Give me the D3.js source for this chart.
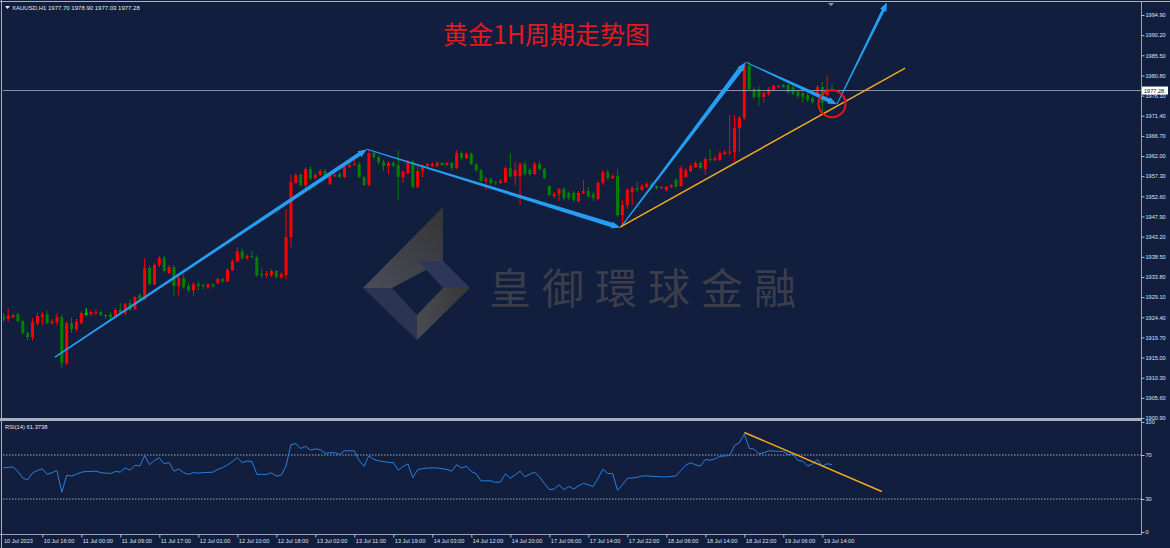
<!DOCTYPE html>
<html>
<head>
<meta charset="utf-8">
<script src="https://cdn.jsdelivr.net/npm/d3@7"></script>
<style>
  html, body { margin: 0; padding: 0; background: #111e3d; overflow: hidden; }
  svg { display: block; }
  text { font-family: "Liberation Sans", Arial, sans-serif; }
</style>
</head>
<body>
<svg id="chart"></svg>
<script>
// ---- data ----
const symbolTitle = "XAUUSD,H1  1977.70 1978.90 1977.03 1977.28";
const chartTitle = "黄金1H周期走势图";
const watermarkText = "皇御環球金融";
const rsiTitle = "RSI(14) 61.3738";

// hourly candles [open, high, low, close]
const candles = [
  [1924.9,1925.4,1923.3,1923.7],[1924.0,1926.5,1923.3,1924.7],[1924.4,1925.3,1924.2,1924.9],[1925.1,1925.5,1923.2,1923.5],
  [1923.5,1923.7,1920.3,1920.7],[1920.7,1921.0,1919.0,1919.8],[1919.8,1924.2,1919.0,1923.3],[1923.0,1925.4,1922.4,1924.7],
  [1924.4,1925.6,1922.5,1925.1],[1925.1,1926.0,1922.8,1923.0],[1923.0,1924.0,1922.7,1923.5],[1923.3,1925.4,1922.5,1924.4],
  [1924.4,1925.0,1912.5,1913.7],[1913.7,1923.5,1913.2,1923.0],[1923.0,1924.4,1920.7,1921.6],[1921.6,1924.0,1921.0,1923.3],
  [1923.0,1925.8,1922.8,1925.4],[1925.3,1926.5,1924.7,1925.3],[1925.1,1926.0,1924.7,1925.6],[1925.4,1926.3,1924.9,1925.6],
  [1925.6,1925.8,1924.7,1924.9],[1924.9,1925.1,1924.0,1924.7],[1925.1,1925.6,1923.9,1924.4],[1924.7,1926.5,1924.4,1926.1],
  [1926.1,1927.6,1925.1,1925.4],[1925.4,1927.9,1924.9,1927.5],[1927.7,1928.6,1925.8,1926.1],[1926.3,1929.4,1926.0,1929.1],
  [1929.6,1930.0,1928.2,1928.6],[1928.6,1938.2,1928.4,1935.9],[1935.9,1936.4,1931.9,1932.1],[1932.1,1937.0,1931.9,1936.6],
  [1936.6,1938.7,1936.1,1938.2],[1938.2,1938.7,1934.9,1935.2],[1934.7,1936.6,1934.5,1936.1],[1936.1,1936.6,1929.4,1931.7],
  [1931.7,1934.0,1929.4,1933.5],[1933.5,1934.5,1931.0,1931.4],[1931.7,1932.4,1930.2,1930.7],[1930.7,1932.6,1929.4,1932.1],
  [1932.1,1932.6,1930.7,1931.7],[1931.9,1932.2,1931.0,1931.7],[1931.4,1932.4,1931.0,1932.1],[1932.1,1932.4,1931.2,1931.7],
  [1932.4,1933.7,1932.1,1933.3],[1933.3,1933.5,1932.4,1932.8],[1932.8,1935.8,1932.6,1935.4],[1935.4,1937.9,1935.2,1937.5],
  [1937.5,1940.7,1937.2,1939.8],[1939.8,1940.4,1937.9,1938.2],[1938.2,1939.1,1937.7,1938.7],[1938.7,1940.0,1938.2,1938.4],
  [1938.4,1938.9,1933.8,1934.2],[1934.5,1935.9,1933.5,1934.2],[1934.2,1935.2,1933.5,1934.5],[1934.2,1935.6,1933.8,1935.2],
  [1935.2,1935.4,1933.5,1933.8],[1933.8,1934.9,1933.3,1934.5],[1934.2,1949.6,1933.3,1943.1],[1943.1,1957.6,1940.7,1955.9],
  [1955.7,1958.0,1955.5,1957.6],[1957.6,1958.0,1954.8,1955.2],[1955.2,1959.4,1954.5,1959.0],[1959.0,1959.7,1956.4,1956.9],
  [1956.9,1958.0,1956.6,1957.6],[1957.6,1959.0,1957.3,1958.5],[1958.5,1959.0,1956.9,1957.1],[1955.5,1957.6,1955.2,1957.3],
  [1957.3,1958.0,1957.1,1957.6],[1957.8,1958.3,1956.9,1957.1],[1957.1,1959.9,1956.9,1959.4],[1959.4,1960.4,1959.2,1959.9],
  [1959.9,1961.3,1959.7,1960.1],[1960.1,1960.6,1956.9,1957.1],[1957.1,1957.3,1955.0,1955.2],[1955.2,1963.6,1955.0,1962.7],
  [1962.7,1963.1,1961.3,1961.8],[1961.8,1962.2,1960.1,1960.6],[1960.6,1961.1,1958.5,1959.7],[1959.7,1960.8,1957.8,1960.4],
  [1960.4,1960.8,1959.4,1959.7],[1959.9,1963.4,1951.8,1957.1],[1957.1,1958.7,1955.7,1958.3],[1958.0,1961.1,1957.8,1960.6],
  [1960.6,1961.1,1954.5,1954.8],[1954.8,1960.1,1954.5,1958.5],[1958.7,1960.1,1957.1,1959.7],[1959.7,1960.4,1959.4,1960.1],
  [1959.7,1960.6,1959.4,1960.1],[1959.7,1960.8,1959.4,1960.4],[1960.4,1960.6,1959.7,1959.9],[1959.9,1960.6,1959.7,1960.4],
  [1960.4,1960.6,1958.7,1959.2],[1959.2,1963.4,1958.9,1962.7],[1962.7,1963.1,1961.1,1961.5],[1961.5,1962.9,1961.3,1962.5],
  [1962.5,1962.9,1959.9,1960.1],[1960.1,1960.4,1958.3,1958.7],[1958.7,1959.0,1955.9,1956.2],[1956.2,1957.1,1954.1,1956.6],
  [1956.6,1957.1,1955.2,1955.7],[1955.9,1956.2,1955.2,1955.7],[1955.7,1956.6,1955.5,1956.2],[1955.9,1959.7,1955.7,1959.2],
  [1959.2,1962.7,1957.1,1957.3],[1957.3,1960.6,1955.2,1958.7],[1957.3,1960.6,1950.6,1960.1],[1960.1,1960.8,1957.3,1957.8],
  [1958.7,1959.2,1957.3,1957.8],[1957.8,1960.6,1957.6,1960.1],[1960.1,1960.8,1958.7,1959.0],[1959.0,1959.2,1956.6,1956.9],
  [1955.0,1955.2,1952.7,1952.9],[1952.7,1953.6,1952.2,1953.1],[1953.1,1954.5,1951.5,1954.3],[1954.3,1954.8,1951.7,1952.2],
  [1953.4,1953.8,1951.7,1952.2],[1953.4,1953.8,1951.2,1951.7],[1951.5,1953.8,1951.2,1953.4],[1953.4,1956.4,1953.1,1953.8],
  [1953.8,1954.8,1952.2,1952.7],[1953.1,1953.6,1951.5,1952.2],[1952.0,1956.2,1951.7,1955.7],[1955.7,1958.7,1955.2,1958.3],
  [1958.3,1958.9,1956.4,1956.9],[1956.9,1957.8,1956.6,1957.3],[1957.3,1959.0,1947.8,1948.2],[1948.2,1951.7,1945.4,1950.6],
  [1950.6,1954.5,1949.6,1954.1],[1953.6,1955.0,1950.6,1954.5],[1954.5,1956.0,1953.6,1954.1],[1954.1,1955.5,1953.8,1955.0],
  [1954.8,1956.0,1954.5,1955.5],[1955.5,1956.0,1954.3,1954.8],[1955.0,1955.2,1954.1,1954.5],[1954.5,1955.0,1954.3,1954.8],
  [1954.1,1955.0,1953.8,1954.8],[1954.8,1955.5,1954.5,1955.2],[1956.4,1956.9,1954.5,1954.8],[1955.0,1959.7,1954.8,1959.2],
  [1957.1,1959.2,1956.9,1958.7],[1958.5,1960.1,1958.3,1959.7],[1959.4,1960.8,1959.2,1960.4],[1960.4,1960.8,1958.9,1959.2],
  [1959.0,1961.8,1957.6,1961.3],[1961.3,1963.6,1960.6,1961.1],[1961.1,1962.0,1960.8,1961.5],[1961.1,1963.1,1960.8,1962.7],
  [1962.5,1963.4,1962.2,1962.9],[1962.8,1971.6,1962.2,1963.0],[1962.9,1971.6,1960.6,1968.5],[1968.5,1971.4,1962.9,1970.9],
  [1970.9,1983.9,1970.4,1983.2],[1983.2,1984.0,1977.1,1977.6],[1977.6,1978.1,1975.3,1975.8],[1977.6,1978.3,1973.8,1975.8],
  [1975.8,1977.1,1974.5,1976.7],[1976.5,1978.1,1976.0,1977.6],[1977.4,1978.6,1977.1,1978.3],[1978.1,1978.6,1977.9,1978.3],
  [1978.6,1978.8,1977.9,1978.1],[1978.6,1978.8,1976.5,1976.9],[1978.1,1978.6,1976.2,1976.5],[1977.1,1977.4,1975.5,1976.0],
  [1976.7,1977.1,1974.5,1975.8],[1976.2,1976.7,1974.6,1975.1],[1975.5,1975.8,1974.2,1974.6],[1976.2,1978.6,1975.8,1978.1],
  [1978.1,1979.3,1972.3,1974.4],[1976.2,1980.7,1975.8,1977.6],[1977.70,1978.90,1977.03,1977.28]
];

// RSI(14), one value per bar
const rsi = [
  58.2,58.8,59.1,55,49,47.4,53.8,56,57.4,52.4,54,55.9,36.2,51.5,50.9,52.5,54.4,55,55.1,55.3,
  54,53.5,53.2,55,54.5,58.2,56.2,60.6,60,69.4,61.2,65,67.6,61.8,63.2,55.3,57.4,54,52.4,54,
  53.5,54,54.2,54.4,57,58.5,61,64,67.6,63.2,64.5,64.1,52.4,52.4,52.4,53.8,50.9,51.5,60,79.4,
  80.3,75.9,77.9,74.4,75.5,75,71.5,72,72.1,70.6,73.8,73.8,73.8,65,59.7,69.4,66,64.7,64,63.2,
  63.2,56.2,59.7,61.8,49.4,56.8,57.5,58.2,58.2,58.2,57.5,56.8,55.3,61.2,58.2,59.7,55,52.9,46.5,46.5,
  46.5,45,45.6,52.9,48.8,52,55.3,50.3,52.5,54.4,50,44,38.5,39.1,42.9,38.5,41.5,39.1,42,44.2,
  43,41.3,49,57,53.1,53.1,37.7,43,48.7,49.2,49.6,51,51,50.6,50.4,50.2,50.1,50.5,51,56,
  60.8,62.9,61,59.9,65.9,65.3,66.5,68.8,69.2,69.4,78.6,81.3,89,76.2,75.3,71.2,72,73.9,73.5,73.3,
  73.3,70.3,70.9,65,64.4,59.9,62,65.9,59.9,62,61.37
];

const firstDateLabel = "10 Jul 2023";
const timeTickBars = [8,16,24,32,40,48,56,64,72,80,88,96,104,112,120,128,136,144,152,160,168];
const timeLabels = ["10 Jul 16:00","11 Jul 00:00","11 Jul 09:00","11 Jul 17:00","12 Jul 01:00","12 Jul 10:00",
  "12 Jul 18:00","13 Jul 02:00","13 Jul 11:00","13 Jul 19:00","14 Jul 03:00","14 Jul 12:00","14 Jul 20:00",
  "17 Jul 06:00","17 Jul 14:00","17 Jul 22:00","18 Jul 06:00","18 Jul 14:00","18 Jul 22:00","19 Jul 06:00","19 Jul 14:00"];
const priceTicks = [1994.90,1990.20,1985.50,1980.80,1976.10,1971.40,1966.70,1962.00,1957.30,1952.60,1947.90,
  1943.20,1938.50,1933.80,1929.10,1924.40,1919.70,1915.00,1910.30,1905.60,1900.90];
const rsiTicks = [100,70,30,0];
const rsiLevels = [70,30];
const lastPrice = 1977.28;

// hand-drawn annotations, in [bar, price] / [bar, rsi]
const waves = [[10.6,1915.1],[74.6,1963.6],[126.6,1945.3],[152.3,1983.9],[171,1974.1],[181.3,1997.9]];
const waveWidths = [[1.6,4],[1,4.5],[1,5],[1,4],[1,3]];
const supportLine = [[126.6,1945.5],[185,1982.5]];
const rsiTrend = [[152,90.5],[180.2,36.8]];
const circleAt = [170,1974.2];

// ---- layout ----
const W = 1170, H = 548;
const left = 3, right = 1141;
const mainTop = 3, mainBottom = 418;
const rsiTop = 421, rsiBottom = 534;
const barStep = 4.875;

const svg = d3.select("#chart").attr("width", W).attr("height", H);

const x = d3.scaleLinear().domain([0, 1]).range([3.3, 3.3 + barStep]);
const y = d3.scaleLinear().domain([1900.9, 1994.9]).range([418, 15]);
const yr = d3.scaleLinear().domain([0, 100]).range([532, 422]);

const defs = svg.append("defs");
defs.append("clipPath").attr("id", "clipMain")
  .append("rect").attr("x", left).attr("y", mainTop).attr("width", right - left).attr("height", mainBottom - mainTop);
defs.append("clipPath").attr("id", "clipRsi")
  .append("rect").attr("x", left).attr("y", rsiTop).attr("width", right - left).attr("height", rsiBottom - rsiTop);

const g1 = defs.append("linearGradient").attr("id", "armGrad").attr("x1", 0).attr("y1", 1).attr("x2", 1).attr("y2", 0);
g1.append("stop").attr("offset", 0).attr("stop-color", "#4a4d58");
g1.append("stop").attr("offset", 1).attr("stop-color", "#343437");
const g2 = defs.append("linearGradient").attr("id", "lrGrad").attr("x1", 0).attr("y1", 0).attr("x2", 1).attr("y2", 0);
g2.append("stop").attr("offset", 0).attr("stop-color", "#4a4b52");
g2.append("stop").attr("offset", 1).attr("stop-color", "#353537");

// background
svg.append("rect").attr("width", W).attr("height", H).attr("fill", "#111e3d");

// frames
svg.append("line").attr("x1", 1.5).attr("x2", 1.5).attr("y1", 0).attr("y2", H).attr("stroke", "#aab0bd");
svg.append("line").attr("x1", 0).attr("x2", W).attr("y1", 1.5).attr("y2", 1.5).attr("stroke", "#aab0bd");
svg.append("line").attr("x1", right + 0.5).attr("x2", right + 0.5).attr("y1", 2).attr("y2", rsiBottom)
  .attr("stroke", "#9aa1b0");
svg.append("rect").attr("x", 0).attr("y", mainBottom).attr("width", right + 1).attr("height", rsiTop - mainBottom)
  .attr("fill", "#a9aebb");
svg.append("line").attr("x1", 0).attr("x2", right + 1).attr("y1", rsiBottom + 0.5).attr("y2", rsiBottom + 0.5)
  .attr("stroke", "#9aa1b0");

// ---- watermark ----
const wm = svg.append("g").attr("transform", "translate(417,288)");
wm.append("polygon").attr("points", "26,-81 26,-27 -25,0 -54,0").attr("fill", "url(#armGrad)");
wm.append("polygon").attr("points", "-54,0 -25,0 0,27 0,52").attr("fill", "#2b3553");
wm.append("polygon").attr("points", "0,52 0,27 26,0 53,0").attr("fill", "url(#lrGrad)");
wm.append("polygon").attr("points", "1,-27 26,-27 53,0 26,0").attr("fill", "#2d3858");
svg.append("text").attr("x", 489).attr("y", 304)
  .style("font-family", "'Noto Sans CJK TC', 'Noto Sans CJK SC', sans-serif")
  .style("font-size", "42px").style("letter-spacing", "11px")
  .attr("fill", "#3b3e4a").text(watermarkText);

// ---- candles ----
const main = svg.append("g").attr("clip-path", "url(#clipMain)");
const colorOf = d => d[3] > d[0] ? "#ff0000" : (d[3] < d[0] ? "#008000" : "#00ff00");

const candle = main.selectAll(".candle").data(candles).enter().append("g").attr("class", "candle");
candle.append("line")
  .attr("x1", (d, i) => x(i)).attr("x2", (d, i) => x(i))
  .attr("y1", d => y(d[1])).attr("y2", d => y(d[2]))
  .attr("stroke", colorOf).attr("stroke-width", 1);
candle.append("rect")
  .attr("x", (d, i) => x(i) - 1.5).attr("width", 3)
  .attr("y", d => y(Math.max(d[0], d[3])))
  .attr("height", d => Math.max(1, Math.abs(y(d[0]) - y(d[3]))))
  .attr("fill", colorOf);

// current price line
main.append("line").attr("x1", left).attr("x2", right).attr("y1", y(lastPrice)).attr("y2", y(lastPrice))
  .attr("stroke", "#8d95a6").attr("stroke-width", 1);

// ---- annotations ----
function arrowPoints(p1, p2, w1, w2, headLen, headW) {
  const dx = p2[0] - p1[0], dy = p2[1] - p1[1];
  const len = Math.hypot(dx, dy);
  const ux = dx / len, uy = dy / len, nx = -uy, ny = ux;
  const bx = p2[0] - ux * headLen, by = p2[1] - uy * headLen;
  return [
    [p1[0] + nx * w1 / 2, p1[1] + ny * w1 / 2],
    [bx + nx * w2 / 2, by + ny * w2 / 2],
    [bx + nx * headW / 2, by + ny * headW / 2],
    p2,
    [bx - nx * headW / 2, by - ny * headW / 2],
    [bx - nx * w2 / 2, by - ny * w2 / 2],
    [p1[0] - nx * w1 / 2, p1[1] - ny * w1 / 2]
  ].map(p => p.join(",")).join(" ");
}

const wavePts = waves.map(d => [x(d[0]), y(d[1])]);
main.selectAll(".wave").data(d3.pairs(wavePts)).enter().append("polygon")
  .attr("class", "wave")
  .attr("points", (d, i) => arrowPoints(d[0], d[1], waveWidths[i][0], waveWidths[i][1], 9, 7))
  .attr("fill", "#259df2");

main.append("line")
  .attr("x1", x(supportLine[0][0])).attr("y1", y(supportLine[0][1]))
  .attr("x2", x(supportLine[1][0])).attr("y2", y(supportLine[1][1]))
  .attr("stroke", "#f5a91d").attr("stroke-width", 1.5);

main.append("circle").attr("cx", x(circleAt[0])).attr("cy", y(circleAt[1])).attr("r", 13.5)
  .attr("fill", "none").attr("stroke", "#e8141a").attr("stroke-width", 2);

// chart shift marker
svg.append("polygon").attr("points", "828,3 834,3 831,6").attr("fill", "#8d95a6");

// ---- titles ----
svg.append("polygon").attr("points", "5,6 10,6 7.5,9").attr("fill", "#e6e9f0");
svg.append("text").attr("x", 12).attr("y", 10).attr("fill", "#e6e9f0")
  .style("font-size", "6px").text(symbolTitle);

svg.append("text").attr("x", 443).attr("y", 44).attr("fill", "#e3191f")
  .style("font-family", "'Noto Sans CJK SC', sans-serif").style("font-size", "25px")
  .text(chartTitle);

// ---- price axis ----
const pAxis = svg.append("g").attr("transform", `translate(${right + 0.5},0)`)
  .call(d3.axisRight(y).tickValues(priceTicks).tickFormat(d3.format(".2f")).tickSize(3).tickPadding(1));
pAxis.select(".domain").remove();
pAxis.selectAll("line").attr("stroke", "#b8bdc9");
pAxis.selectAll("text").attr("fill", "#dfe3ec").style("font-size", "5.6px")
  .style("font-family", "'Liberation Sans', Arial, sans-serif");

// last price tag
svg.append("rect").attr("x", right + 1).attr("y", y(lastPrice) - 4).attr("width", 26).attr("height", 8)
  .attr("fill", "#ffffff");
svg.append("text").attr("x", right + 3).attr("y", y(lastPrice)).attr("dy", "0.35em")
  .attr("fill", "#111111").style("font-size", "5.6px").text(d3.format(".2f")(lastPrice));

// ---- RSI panel ----
const rsiG = svg.append("g").attr("clip-path", "url(#clipRsi)");
rsiG.selectAll(".lvl").data(rsiLevels).enter().append("line")
  .attr("x1", left).attr("x2", right).attr("y1", d => yr(d)).attr("y2", d => yr(d))
  .attr("stroke", "#c6cad4").attr("stroke-width", 0.8).attr("stroke-dasharray", "1.5,1.5");
rsiG.append("path").datum(rsi)
  .attr("d", d3.line().x((d, i) => x(i)).y(d => yr(d)))
  .attr("fill", "none").attr("stroke", "#2a7fe0").attr("stroke-width", 1);
rsiG.append("line")
  .attr("x1", x(rsiTrend[0][0])).attr("y1", yr(rsiTrend[0][1]))
  .attr("x2", x(rsiTrend[1][0])).attr("y2", yr(rsiTrend[1][1]))
  .attr("stroke", "#f5a91d").attr("stroke-width", 1.5);

svg.append("text").attr("x", 5).attr("y", 429).attr("fill", "#e6e9f0")
  .style("font-size", "5.8px").text(rsiTitle);

const rAxis = svg.append("g").attr("transform", `translate(${right + 0.5},0)`)
  .call(d3.axisRight(yr).tickValues(rsiTicks).tickSize(3).tickPadding(1));
rAxis.select(".domain").remove();
rAxis.selectAll("line").attr("stroke", "#b8bdc9");
rAxis.selectAll("text").attr("fill", "#dfe3ec").style("font-size", "5.6px");

// ---- time axis ----
const tAxis = svg.append("g").attr("transform", `translate(0,${rsiBottom + 0.5})`)
  .call(d3.axisBottom(x).tickValues(timeTickBars).tickFormat((d, i) => timeLabels[i]).tickSize(3).tickPadding(2));
tAxis.select(".domain").remove();
tAxis.selectAll("line").attr("stroke", "#b8bdc9");
tAxis.selectAll("text").attr("fill", "#dfe3ec").style("font-size", "5.6px")
  .attr("text-anchor", "start").attr("dx", "1px");
svg.append("text").attr("x", 4).attr("y", 543).attr("fill", "#dfe3ec")
  .style("font-size", "5.6px").text(firstDateLabel);
</script>
</body>
</html>
